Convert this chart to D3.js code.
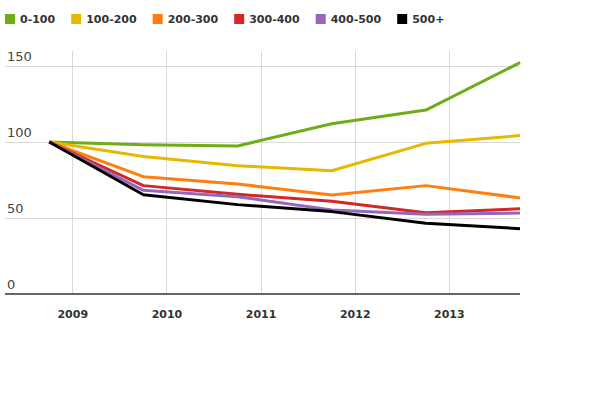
<!DOCTYPE html>
<html>
<head>
<meta charset="utf-8">
<script src="https://cdn.jsdelivr.net/npm/d3@7"></script>
<style>
  html, body { margin: 0; padding: 0; background: #fff; }
  svg { display: block; font-family: "DejaVu Sans", sans-serif; }
</style>
</head>
<body>
<svg id="chart" width="600" height="400"></svg>
<script>
// Data
const categories = ["0-100", "100-200", "200-300", "300-400", "400-500", "500+"];
const colors = ["#6fac16", "#e6b800", "#ff7f0e", "#d62728", "#9467bd", "#000000"];
const times = [2008.75, 2009.75, 2010.75, 2011.75, 2012.75, 2013.75];
const s0_100   = [100, 98.2, 97.4, 112.0, 121.0, 152.2];
const s100_200 = [100, 90.5, 84.4, 81.1, 99.1, 104.2];
const s200_300 = [100, 77.2, 72.4, 65.1, 71.3, 63.2];
const s300_400 = [100, 71.3, 65.6, 61.0, 53.5, 56.1];
const s400_500 = [100, 68.2, 64.0, 55.3, 52.4, 53.3];
const s500     = [100, 65.3, 58.8, 54.2, 46.5, 43.0];
const seriesValues = [s0_100, s100_200, s200_300, s300_400, s400_500, s500];
const xTicks = [2009, 2010, 2011, 2012, 2013];
const xTickLabels = ["2009", "2010", "2011", "2012", "2013"];
const yTicks = [0, 50, 100, 150];

const svg = d3.select("#chart");
const mLeft = 5, mRight = 520, mTop = 51, mBottom = 294;

const x = d3.scaleLinear().domain([2008.28, 2013.75]).range([mLeft, mRight]);
const y = d3.scaleLinear().domain([0, 160]).range([mBottom, mBottom - 160 * 76 / 50]);

// vertical gridlines
svg.append("g").selectAll("line").data(xTicks).join("line")
  .attr("x1", d => x(d)).attr("x2", d => x(d))
  .attr("y1", mTop).attr("y2", mBottom)
  .attr("stroke", "#d9d9d9").attr("stroke-width", 1).attr("shape-rendering", "crispEdges");

// horizontal gridlines
svg.append("g").selectAll("line").data(yTicks.filter(d => d > 0)).join("line")
  .attr("x1", mLeft).attr("x2", mRight)
  .attr("y1", d => y(d)).attr("y2", d => y(d))
  .attr("stroke", "#d9d9d9").attr("stroke-width", 1).attr("shape-rendering", "crispEdges");

// y labels
svg.append("g").selectAll("text").data(yTicks).join("text")
  .attr("x", 7).attr("y", d => y(d) - 5)
  .attr("font-size", 13).attr("fill", "#444")
  .text(d => d);

// x axis baseline
svg.append("line")
  .attr("x1", mLeft).attr("x2", mRight).attr("y1", mBottom).attr("y2", mBottom)
  .attr("stroke", "#333").attr("stroke-width", 1.5);

// x labels
svg.append("g").selectAll("text").data(xTicks).join("text")
  .attr("x", d => x(d)).attr("y", 318)
  .attr("text-anchor", "middle")
  .attr("font-size", 11).attr("font-weight", "bold").attr("fill", "#333")
  .text((d, i) => xTickLabels[i]);

// lines
const line = d3.line().x((d, i) => x(times[i])).y(d => y(d));
svg.append("g").selectAll("path").data(seriesValues).join("path")
  .attr("d", d => line(d))
  .attr("fill", "none")
  .attr("stroke", (d, i) => colors[i])
  .attr("stroke-width", 3)
  .attr("stroke-linejoin", "round");

// legend
const legend = svg.append("g");
let lx = 5;
categories.forEach((c, i) => {
  legend.append("rect").attr("x", lx).attr("y", 14).attr("width", 10).attr("height", 10)
    .attr("fill", colors[i]);
  const t = legend.append("text").attr("x", lx + 15).attr("y", 23)
    .attr("font-size", 11).attr("font-weight", "bold").attr("fill", "#333")
    .text(c);
  lx += 15 + t.node().getComputedTextLength() + 16;
});
</script>
</body>
</html>
